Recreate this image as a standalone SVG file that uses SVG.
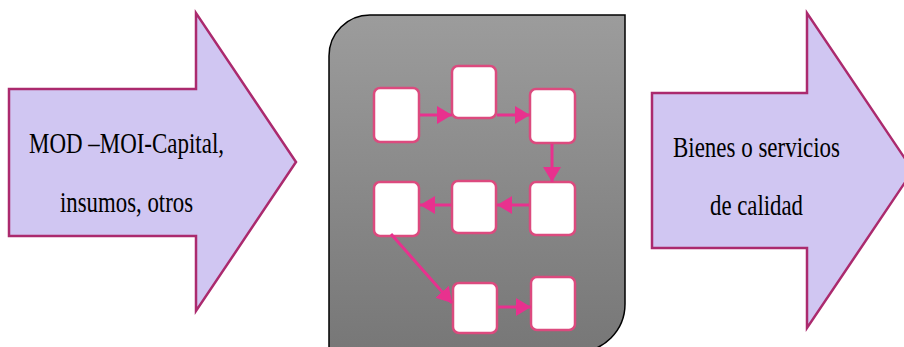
<svg xmlns="http://www.w3.org/2000/svg" width="904" height="347" viewBox="0 0 904 347">
<defs>
<linearGradient id="pg" x1="0" y1="0" x2="0" y2="1">
<stop offset="0" stop-color="#9c9c9c"/>
<stop offset="1" stop-color="#777777"/>
</linearGradient>
<marker id="ah" markerWidth="16" markerHeight="20" refX="15" refY="9" orient="auto" markerUnits="userSpaceOnUse">
<path d="M0,0 L15,9 L0,18 Z" fill="#e8318e"/>
</marker>
<style>
.big{fill:#d0c6f2;stroke:#ab2a6e;stroke-width:2.5;stroke-linejoin:miter}
.box{fill:#ffffff;stroke:#dc4a7e;stroke-width:2.5}
.lbl{font-family:"Liberation Serif","Times New Roman",serif;font-size:29px;fill:#000}
.con{stroke:#e8318e;stroke-width:3;fill:none;marker-end:url(#ah)}
</style>
</defs>
<rect width="904" height="347" fill="#ffffff"/>
<g id="input-arrow">
<path class="big" d="M9,89 L196,89 L196,13 L296,162 L196,311 L196,236 L9,236 Z"/>
<text class="lbl" x="29" y="153" textLength="195" lengthAdjust="spacingAndGlyphs">MOD –MOI-Capital,</text>
<text class="lbl" x="60" y="212" textLength="133" lengthAdjust="spacingAndGlyphs">insumos, otros</text>
</g>
<g id="process-panel">
<path d="M329,352 L329,56 A41,41 0 0 1 370,15 L625,15 L625,304 A48,48 0 0 1 577,352 Z" fill="url(#pg)" stroke="#000" stroke-width="1.5"/>
</g>
<g id="output-arrow">
<path class="big" d="M652,93 L807,93 L807,13 L913,170.5 L807,328 L807,248 L652,248 Z"/>
<text class="lbl" x="673" y="157" textLength="167" lengthAdjust="spacingAndGlyphs">Bienes o servicios</text>
<text class="lbl" x="710" y="215" textLength="93" lengthAdjust="spacingAndGlyphs">de calidad</text>
</g>
<g id="step1"><rect class="box" x="374" y="88" width="45" height="54" rx="6"/></g>
<g id="step2"><rect class="box" x="452" y="66" width="44" height="52" rx="6"/></g>
<g id="step3"><rect class="box" x="530" y="89" width="45" height="54" rx="6"/></g>
<g id="step4"><rect class="box" x="530" y="182" width="45" height="53" rx="6"/></g>
<g id="step5"><rect class="box" x="452" y="181" width="44" height="52" rx="6"/></g>
<g id="step6"><rect class="box" x="374" y="182" width="45" height="54" rx="6"/></g>
<g id="step7"><rect class="box" x="453" y="283" width="44" height="50" rx="6"/></g>
<g id="step8"><rect class="box" x="531" y="277" width="44" height="53" rx="6"/></g>
<g id="connectors">
<line class="con" x1="420" y1="115" x2="452" y2="115"/>
<line class="con" x1="497" y1="115" x2="530" y2="115"/>
<line class="con" x1="552" y1="144" x2="552" y2="182"/>
<line class="con" x1="529" y1="205" x2="497" y2="205"/>
<line class="con" x1="451" y1="205" x2="420" y2="205"/>
<line class="con" x1="391" y1="234" x2="452" y2="303"/>
<line class="con" x1="498" y1="307" x2="531" y2="307"/>
</g>
</svg>
